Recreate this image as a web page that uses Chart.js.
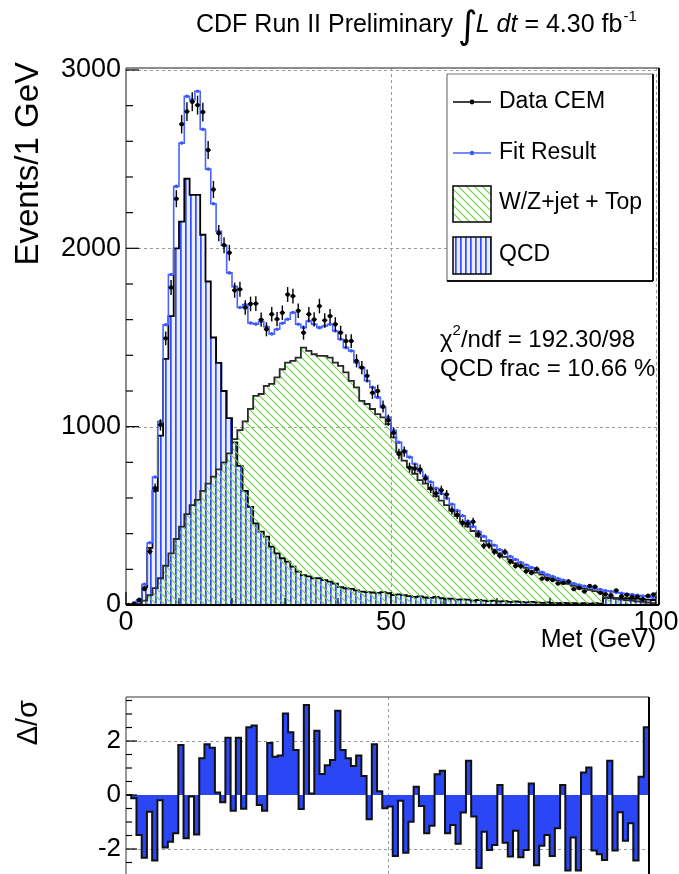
<!DOCTYPE html>
<html><head><meta charset="utf-8">
<script src="https://cdn.jsdelivr.net/npm/chart.js@4.4.1/dist/chart.umd.min.js"></script>
<style>
html,body{margin:0;padding:0;background:#fff;overflow:hidden;width:679px;height:874px;}
#c1{position:absolute;left:0;top:0;}
#c2{position:absolute;left:0;top:675px;}
</style></head><body>
<canvas id="c1" width="679" height="675"></canvas>
<canvas id="c2" width="679" height="199"></canvas>
<script>
// ---- data (1 GeV bins, Met 0..100 GeV) ----
const dataCEM = [0, 8, 30, 90, 300, 655, 1010, 1495, 1780, 2278,
 2696, 2767, 2822, 2803, 2764, 2551, 2330, 2085, 2017, 1975,
 1765, 1770, 1668, 1688, 1690, 1600, 1546, 1630, 1603, 1639,
 1741, 1732, 1650, 1527, 1630, 1601, 1676, 1596, 1620, 1574,
 1527, 1480, 1480, 1369, 1331, 1285, 1190, 1200, 1113, 1036,
 965, 847, 860, 770, 765, 760, 709, 653, 626, 644,
 620, 531, 505, 460, 456, 467, 396, 332, 334, 298,
 277, 298, 243, 219, 218, 189, 180, 202, 148, 145,
 140, 121, 124, 132, 89, 95, 76, 107, 103, 68,
 60, 55, 82, 49, 57, 45, 46, 33, 52, 59];
const fitResult = [0, 6, 28, 116, 349, 718, 1028, 1571, 1853, 2347,
 2590, 2852, 2832, 2881, 2667, 2444, 2250, 2095, 2017, 1862,
 1785, 1668, 1685, 1581, 1575, 1590, 1560, 1520, 1546, 1580,
 1602, 1640, 1574, 1555, 1592, 1574, 1555, 1564, 1574, 1536,
 1490, 1443, 1425, 1359, 1331, 1257, 1220, 1164, 1108, 1052,
 978, 912, 866, 829, 791, 750, 720, 690, 655, 625,
 598, 565, 530, 500, 470, 440, 412, 385, 360, 335,
 310, 292, 272, 255, 238, 224, 210, 196, 183, 170,
 159, 148, 138, 128, 120, 112, 105, 99, 93, 87,
 80, 76, 71, 66, 62, 58, 54, 50, 47, 43];
const wzJetTop = [0, 2, 8, 25, 55, 95, 150, 220, 290, 370,
 440, 510, 560, 590, 640, 680, 720, 760, 800, 850,
 930, 980, 1030, 1100, 1173, 1183, 1229, 1240, 1276, 1322,
 1359, 1369, 1387, 1443, 1425, 1406, 1397, 1397, 1387, 1359,
 1341, 1304, 1257, 1220, 1145, 1127, 1099, 1070, 1052, 1015,
 940, 857, 810, 773, 736, 700, 680, 650, 610, 585,
 560, 530, 500, 468, 440, 415, 385, 360, 338, 310,
 290, 270, 254, 235, 220, 208, 192, 181, 171, 155,
 147, 138, 126, 118, 108, 100, 92, 85, 78, 72,
 42, 38, 34, 30, 27, 24, 20, 17, 14, 10];
const qcd = [0, 4, 20, 100, 320, 640, 950, 1380, 1620, 2000,
 2150, 2390, 2300, 2300, 2076, 1814, 1500, 1358, 1200, 1048,
 912, 780, 640, 550, 458, 411, 383, 327, 290, 262,
 243, 215, 187, 168, 160, 150, 150, 140, 131, 120,
 100, 94, 90, 82, 75, 72, 70, 68, 72, 66,
 56, 60, 55, 50, 45, 48, 42, 40, 45, 38,
 35, 36, 30, 32, 30, 25, 28, 25, 22, 25,
 20, 22, 18, 20, 18, 15, 18, 15, 12, 15,
 12, 10, 12, 10, 10, 8, 10, 8, 10, 8,
 40, 42, 38, 36, 38, 34, 36, 32, 30, 28];
const residual = [0, -0.12, -1.48, -2.32, -0.62, -2.43, -0.19, -1.94, -1.73, -1.42,
 1.85, -1.60, -0.06, -1.46, 1.36, 1.88, 1.75, 0.09, -0.27, 2.12,
 -0.58, 2.12, -0.51, 2.51, 2.57, -0.37, -0.58, 1.93, 1.42, 1.46,
 3.02, 2.32, 1.67, -0.52, 3.33, 0.06, 2.38, 0.78, 1.10, 1.30,
 3.12, 1.67, 1.36, 1.07, 1.46, 0.70, -0.90, 1.88, 0.14, -0.49,
 -0.43, -2.26, -0.21, -2.14, -0.99, 0.31, -0.41, -1.42, -1.14, 0.77,
 0.90, -1.42, -1.11, -1.81, -0.65, 1.27, -0.80, -2.70, -1.36, -2.04,
 -1.85, 0.37, -1.77, -2.28, -1.32, -2.31, -2.04, 0.43, -2.60, -1.88,
 -1.48, -2.26, -1.23, 0.37, -2.80, -1.57, -2.80, 0.83, 1.02, -2.06,
 -2.19, -2.41, 1.27, -2.06, -0.64, -1.69, -1.05, -2.43, 0.68, 2.51];
const mainXTicks = [0, 50, 100];
const mainYTicks = [0, 1000, 2000, 3000];
const resYTicks = [-2, 0, 2];
const legendLabels = ['Data CEM', 'Fit Result', 'W/Z+jet + Top', 'QCD'];

// ---- helpers ----
const FONT = "'Liberation Sans', Arial, Helvetica, sans-serif";
Chart.defaults.font.family = FONT;
Chart.defaults.color = '#000';
const steps = arr => arr.map((v, i) => ({x: i, y: v})).concat([{x: arr.length, y: arr[arr.length - 1]}]);
const centers = arr => arr.map((v, i) => ({x: i + 0.5, y: v}));
const plainLabel = v => String(v);

function makeStripe(ctx) {
  const c = document.createElement('canvas'); c.width = 5; c.height = 10;
  const g = c.getContext('2d');
  g.fillStyle = '#eceeff'; g.fillRect(0, 0, 5, 10);
  g.fillStyle = '#2f4dff'; g.fillRect(0, 0, 1.7, 10);
  return ctx.createPattern(c, 'repeat');
}
function makeHatch(ctx) {
  const c = document.createElement('canvas'); c.width = 8; c.height = 8;
  const g = c.getContext('2d');
  g.strokeStyle = '#6fd443'; g.lineWidth = 1.2;
  g.beginPath();
  g.moveTo(-1, -1); g.lineTo(9, 9);
  g.moveTo(-1, 7); g.lineTo(1, 9);
  g.moveTo(7, -1); g.lineTo(9, 1);
  g.stroke();
  return ctx.createPattern(c, 'repeat');
}
function seg(ctx, x1, y1, x2, y2) { ctx.beginPath(); ctx.moveTo(x1, y1); ctx.lineTo(x2, y2); ctx.stroke(); }

const ctx1 = document.getElementById('c1').getContext('2d');
const ctx2 = document.getElementById('c2').getContext('2d');
const qcdPattern = makeStripe(ctx1);
const wzPattern = makeHatch(ctx1);

// ---- main plot decorations ----
const mainDecor = {
  id: 'mainDecor',
  beforeDatasetsDraw(chart) {
    const {ctx, chartArea: a, scales: {x, y}} = chart;
    ctx.save();
    ctx.strokeStyle = '#9a9a9a'; ctx.lineWidth = 1; ctx.setLineDash([3, 3]);
    [1000, 2000, 3000].forEach(v => { const py = Math.round(y.getPixelForValue(v)) + 0.5; seg(ctx, a.left, py, a.right, py); });
    [50, 100].forEach(v => { const px = Math.round(x.getPixelForValue(v)) + 0.5; seg(ctx, px, a.top, px, a.bottom); });
    ctx.restore();
  },
  afterDatasetsDraw(chart) {
    const {ctx, chartArea: a, scales: {x, y}} = chart;
    ctx.save();
    // data error bars
    ctx.strokeStyle = '#000'; ctx.lineWidth = 1.4;
    dataCEM.forEach((v, i) => {
      if (v <= 0) return;
      const e = Math.sqrt(v);
      const xc = x.getPixelForValue(i + 0.5), yc = y.getPixelForValue(v);
      seg(ctx, xc, y.getPixelForValue(v - e), xc, y.getPixelForValue(v + e));
      seg(ctx, x.getPixelForValue(i), yc, x.getPixelForValue(i + 1), yc);
    });
    // frame
    ctx.lineWidth = 1.5; ctx.strokeStyle = '#666';
    seg(ctx, a.left, a.top, a.right, a.top);
    seg(ctx, a.left, a.top, a.left, a.bottom);
    ctx.lineWidth = 2; ctx.strokeStyle = '#000';
    seg(ctx, a.right, a.top, a.right, a.bottom);
    seg(ctx, a.left, a.bottom, a.right, a.bottom);
    // tick marks
    ctx.lineWidth = 1.2; ctx.strokeStyle = '#000';
    for (let v = 0; v <= 3000; v += 200) {
      const py = y.getPixelForValue(v); const len = v % 1000 === 0 ? 13 : 7;
      seg(ctx, a.left, py, a.left + len, py);
    }
    for (let v = 0; v <= 100; v += 10) {
      const px = x.getPixelForValue(v); const len = v % 50 === 0 ? 13 : 7;
      seg(ctx, px, a.bottom, px, a.bottom - len);
    }
    ctx.restore();
  },
  afterDraw(chart) {
    const {ctx} = chart;
    ctx.save();
    ctx.fillStyle = '#000';
    // title
    ctx.textBaseline = 'alphabetic'; ctx.textAlign = 'left';
    let tx = 196; const ty = 32;
    ctx.font = '25px ' + FONT; ctx.fillText('CDF Run II Preliminary', tx, ty);
    tx += ctx.measureText('CDF Run II Preliminary ').width;
    ctx.font = "38px 'DejaVu Sans'"; ctx.fillText('\u222B', tx - 2, ty + 6);
    tx += ctx.measureText('\u222B').width - 4;
    ctx.font = 'italic 25px ' + FONT; ctx.fillText('L', tx, ty);
    tx += ctx.measureText('L ').width;
    ctx.fillText('dt', tx, ty); tx += ctx.measureText('dt').width;
    ctx.font = '25px ' + FONT; ctx.fillText(' = 4.30 fb', tx, ty);
    tx += ctx.measureText(' = 4.30 fb').width;
    ctx.font = '15px ' + FONT; ctx.fillText('-1', tx + 1, ty - 11);
    // y axis title
    ctx.save();
    ctx.translate(29, 62); ctx.rotate(-Math.PI / 2);
    ctx.font = '33px ' + FONT; ctx.textAlign = 'right'; ctx.textBaseline = 'middle';
    ctx.fillText('Events/1 GeV', 0, 0);
    ctx.restore();
    // x axis title
    ctx.font = '25px ' + FONT; ctx.textAlign = 'right'; ctx.textBaseline = 'middle';
    ctx.fillText('Met (GeV)', 656, 640);
    // fit info
    ctx.textAlign = 'left';
    let sx = 440; const sy = 340;
    ctx.font = '24px ' + FONT; ctx.fillText('\u03C7', sx, sy); sx += ctx.measureText('\u03C7').width;
    ctx.font = '15px ' + FONT; ctx.fillText('2', sx, sy - 9); sx += ctx.measureText('2').width;
    ctx.font = '24px ' + FONT; ctx.fillText('/ndf = 192.30/98', sx, sy);
    ctx.fillText('QCD frac = 10.66 %', 440, 369);
    // legend
    const L = 447, R = 653, T = 74, B = 281;
    ctx.fillStyle = '#fff'; ctx.fillRect(L, T, R - L, B - T);
    ctx.lineWidth = 1.2; ctx.strokeStyle = '#777';
    seg(ctx, L, T, R, T); seg(ctx, L, T, L, B);
    ctx.lineWidth = 2; ctx.strokeStyle = '#111';
    seg(ctx, R, T, R, B); seg(ctx, L, B, R, B);
    const rows = [102, 153, 203, 255];
    const mx1 = 453, mx2 = 491;
    ctx.lineWidth = 1.5;
    ctx.strokeStyle = '#000'; seg(ctx, mx1, rows[0], mx2, rows[0]);
    ctx.fillStyle = '#000'; ctx.beginPath(); ctx.arc((mx1 + mx2) / 2, rows[0], 2.4, 0, 2 * Math.PI); ctx.fill();
    ctx.strokeStyle = '#4863ff'; seg(ctx, mx1, rows[1], mx2, rows[1]);
    ctx.fillStyle = '#3a56ff'; ctx.beginPath(); ctx.arc((mx1 + mx2) / 2, rows[1], 2.2, 0, 2 * Math.PI); ctx.fill();
    ctx.fillStyle = wzPattern; ctx.fillRect(mx1, 186, mx2 - mx1, 36);
    ctx.strokeStyle = '#111'; ctx.lineWidth = 1.6; ctx.strokeRect(mx1, 186, mx2 - mx1, 36);
    ctx.fillStyle = qcdPattern; ctx.fillRect(mx1, 237, mx2 - mx1, 37);
    ctx.strokeRect(mx1, 237, mx2 - mx1, 37);
    ctx.fillStyle = '#000'; ctx.font = '23px ' + FONT; ctx.textBaseline = 'middle'; ctx.textAlign = 'left';
    legendLabels.forEach((t, k) => ctx.fillText(t, 499, rows[k]));
    ctx.restore();
  }
};

new Chart(ctx1, {
  type: 'scatter',
  data: {datasets: [
    {label: 'Data CEM', data: centers(dataCEM), pointRadius: 2.2, pointBackgroundColor: '#000', pointBorderColor: '#000', borderWidth: 0, order: 0},
    {label: 'Fit Result points', data: centers(fitResult), pointRadius: 1.8, pointBackgroundColor: '#3a56ff', pointBorderColor: '#3a56ff', borderWidth: 0, order: 1},
    {type: 'line', label: 'Fit Result', data: steps(fitResult), stepped: true, borderColor: '#4863ff', borderWidth: 1.6, pointRadius: 0, fill: false, order: 2},
    {type: 'line', label: 'W/Z+jet + Top', data: steps(wzJetTop), stepped: true, borderColor: '#2a2a2a', borderWidth: 1.8, pointRadius: 0, fill: 'origin', backgroundColor: wzPattern, order: 3},
    {type: 'line', label: 'QCD', data: steps(qcd), stepped: true, borderColor: '#000', borderWidth: 1.8, pointRadius: 0, fill: 'origin', backgroundColor: qcdPattern, order: 4}
  ]},
  options: {
    responsive: false, animation: false, events: [],
    layout: {padding: {left: 0, top: 68, right: 20, bottom: 0}},
    plugins: {legend: {display: false}, tooltip: {enabled: false}, title: {display: false}},
    scales: {
      x: {type: 'linear', min: 0, max: 100.57,
        grid: {display: false, drawTicks: false}, border: {display: false},
        afterBuildTicks: s => { s.ticks = mainXTicks.map(v => ({value: v})); },
        afterFit: s => { s.height = 70; s.paddingLeft = 0; s.paddingRight = 0; },
        ticks: {font: {size: 27}, color: '#000', padding: 1, maxRotation: 0, autoSkip: false, callback: plainLabel}},
      y: {type: 'linear', min: 0, max: 3011,
        grid: {display: false, drawTicks: false}, border: {display: false},
        afterBuildTicks: s => { s.ticks = mainYTicks.map(v => ({value: v})); },
        afterFit: s => { s.width = 126; s.paddingTop = 0; s.paddingBottom = 0; },
        ticks: {font: {size: 27}, color: '#000', padding: 5, callback: plainLabel}}
    }
  },
  plugins: [mainDecor]
});

// ---- residual plot ----
const lowerDecor = {
  id: 'lowerDecor',
  beforeDatasetsDraw(chart) {
    const {ctx, chartArea: a, scales: {x, y}} = chart;
    ctx.save();
    ctx.strokeStyle = '#9a9a9a'; ctx.lineWidth = 1; ctx.setLineDash([3, 3]);
    [-2, 2].forEach(v => { const py = Math.round(y.getPixelForValue(v)) + 0.5; seg(ctx, a.left, py, a.right, py); });
    [50].forEach(v => { const px = Math.round(x.getPixelForValue(v)) + 0.5; seg(ctx, px, a.top, px, a.bottom); });
    ctx.restore();
  },
  afterDatasetsDraw(chart) {
    const {ctx, chartArea: a, scales: {x, y}} = chart;
    ctx.save();
    ctx.lineWidth = 1.5; ctx.strokeStyle = '#777';
    seg(ctx, a.left, a.top, a.right, a.top);
    seg(ctx, a.left, a.top, a.left, a.bottom);
    ctx.lineWidth = 2; ctx.strokeStyle = '#000';
    seg(ctx, a.right, a.top, a.right, a.bottom);
    ctx.lineWidth = 1.2; ctx.strokeStyle = '#000';
    for (let v = -2.5; v <= 3.5; v += 0.5) {
      const py = y.getPixelForValue(v); const len = v % 2 === 0 ? 11 : 6;
      seg(ctx, a.left, py, a.left + len, py);
    }
    ctx.restore();
  },
  afterDraw(chart) {
    const {ctx} = chart;
    ctx.save();
    ctx.translate(29, 25); ctx.rotate(-Math.PI / 2);
    ctx.font = '29px ' + FONT; ctx.textAlign = 'right'; ctx.textBaseline = 'middle'; ctx.fillStyle = '#000';
    ctx.fillText('\u0394/\u03C3', 0, 0);
    ctx.restore();
  }
};

new Chart(ctx2, {
  type: 'scatter',
  data: {datasets: [
    {type: 'line', label: '\u0394/\u03C3', data: steps(residual), stepped: true, borderColor: '#111', borderWidth: 2, pointRadius: 0, fill: 'origin', backgroundColor: '#2a46f5'}
  ]},
  options: {
    responsive: false, animation: false, events: [],
    layout: {padding: {left: 0, top: 22, right: 30, bottom: 0}},
    plugins: {legend: {display: false}, tooltip: {enabled: false}},
    scales: {
      x: {type: 'linear', display: false, min: 0, max: 100},
      y: {type: 'linear', min: -2.926, max: 3.63,
        grid: {display: false, drawTicks: false}, border: {display: false},
        afterBuildTicks: s => { s.ticks = resYTicks.map(v => ({value: v})); },
        afterFit: s => { s.width = 126; s.paddingTop = 0; s.paddingBottom = 0; },
        ticks: {font: {size: 26}, color: '#000', padding: 5, callback: plainLabel}}
    }
  },
  plugins: [lowerDecor]
});
</script>
</body></html>
